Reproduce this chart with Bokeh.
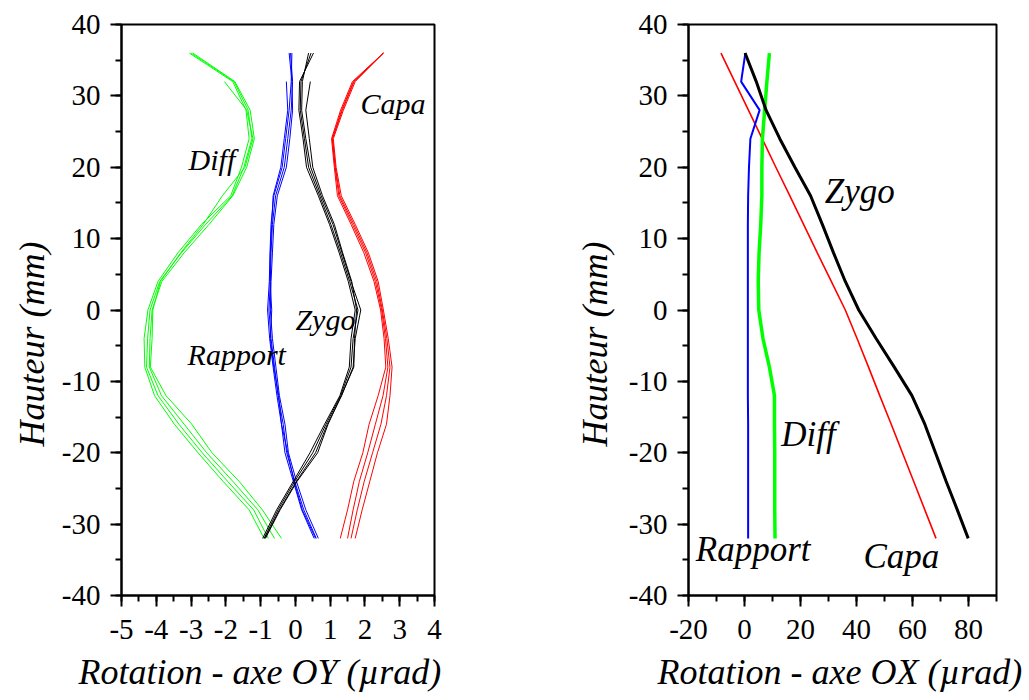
from bokeh.plotting import figure
from bokeh.layouts import row
from bokeh.models import Range1d, SingleIntervalTicker, Title, CustomJSTickFormatter
from bokeh.core.properties import value
from bokeh.embed import file_html
from bokeh.resources import INLINE

nan = float("nan")

# Heights (mm) shared by all curves
heights = [36, 32, 28, 24, 20, 16, 12, 8, 4, 0, -4, -8, -12, -16, -20, -24, -28, -32]

# ---- Left panel: Rotation - axe OY (µrad), several repeated measurements ----
diff_oy = [
    [-3.05, -1.80, -1.42, -1.33, -1.55, -1.86, -2.70, -3.38, -3.95, -4.24, -4.35, -4.33, -4.05, -3.48, -2.80, -2.08, -1.33, -0.90],
    [-3.00, -1.76, -1.36, -1.25, -1.48, -1.82, -2.58, -3.28, -3.90, -4.18, -4.25, -4.28, -3.95, -3.35, -2.68, -1.95, -1.20, -0.78],
    [-2.95, -1.74, -1.30, -1.18, -1.40, -1.80, -2.48, -3.20, -3.84, -4.12, -4.18, -4.20, -3.85, -3.20, -2.55, -1.80, -1.08, -0.60],
    [nan, -2.04, -1.40, -1.22, -1.45, -2.10, -2.65, -3.30, -3.88, -4.10, -4.12, -4.17, -3.72, -2.98, -2.40, -1.62, -0.95, -0.40],
]
rapport_oy = [
    [-0.18, -0.10, -0.08, -0.16, -0.26, -0.52, -0.62, -0.66, -0.70, -0.72, -0.66, -0.56, -0.46, -0.30, -0.20, 0.03, 0.30, 0.66],
    [-0.14, -0.08, -0.12, -0.22, -0.32, -0.57, -0.66, -0.70, -0.72, -0.76, -0.70, -0.60, -0.50, -0.35, -0.25, -0.02, 0.24, 0.60],
    [-0.10, -0.12, -0.18, -0.28, -0.38, -0.62, -0.70, -0.73, -0.75, -0.80, -0.74, -0.64, -0.53, -0.40, -0.30, -0.06, 0.18, 0.54],
    [nan, -0.26, -0.22, -0.32, -0.42, -0.64, -0.68, -0.72, -0.73, -0.68, -0.72, -0.62, -0.48, -0.40, -0.22, -0.04, 0.20, 0.58],
]
zygo_oy = [
    [0.52, 0.12, 0.10, 0.22, 0.32, 0.66, 0.98, 1.26, 1.52, 1.72, 1.60, 1.55, 1.28, 0.84, 0.42, -0.06, -0.54, -0.94],
    [0.45, 0.16, 0.14, 0.26, 0.38, 0.70, 1.02, 1.30, 1.56, 1.80, 1.66, 1.60, 1.30, 0.88, 0.50, -0.02, -0.50, -0.90],
    [0.38, 0.20, 0.18, 0.30, 0.44, 0.74, 1.08, 1.34, 1.60, 1.88, 1.72, 1.66, 1.33, 0.92, 0.58, 0.03, -0.46, -0.88],
    [nan, 0.43, 0.30, 0.40, 0.50, 0.78, 1.12, 1.36, 1.62, 1.76, 1.70, 1.68, 1.32, 0.94, 0.64, 0.05, -0.44, -0.86],
]
capa_oy = [
    [2.53, 1.64, 1.30, 1.04, 1.12, 1.21, 1.60, 1.97, 2.26, 2.45, 2.55, 2.60, 2.38, 2.12, 1.94, 1.68, 1.50, 1.29],
    [2.53, 1.67, 1.33, 1.06, 1.14, 1.25, 1.64, 2.02, 2.30, 2.48, 2.59, 2.66, 2.52, 2.30, 2.08, 1.84, 1.66, 1.50],
    [2.53, 1.69, 1.35, 1.07, 1.15, 1.28, 1.68, 2.06, 2.34, 2.50, 2.63, 2.72, 2.62, 2.46, 2.22, 1.98, 1.78, 1.60],
    [2.53, 1.72, 1.38, 1.09, 1.17, 1.32, 1.72, 2.10, 2.38, 2.53, 2.67, 2.78, 2.72, 2.62, 2.36, 2.14, 1.92, 1.72],
]

# ---- Right panel: Rotation - axe OX (µrad) ----
zygo_ox = [0.2, 4.2, 7.7, 12.6, 18.0, 23.6, 27.8, 31.8, 36.0, 40.8, 47.0, 53.5, 59.8, 64.4, 68.2, 72.0, 76.0, 79.9]
capa_ox = [-8.4, -3.5, 1.4, 6.3, 11.2, 16.2, 21.1, 26.0, 31.0, 36.0, 40.2, 44.3, 48.3, 52.4, 56.4, 60.4, 64.4, 68.4]
rapport_ox = [0.3, -1.2, 5.4, 2.1, 1.6, 1.3, 1.2, 1.2, 1.2, 1.2, 1.2, 1.2, 1.2, 1.3, 1.3, 1.3, 1.3, 1.3]
diff_ox = [8.9, 8.0, 7.2, 6.4, 6.2, 6.2, 5.8, 5.2, 4.9, 5.1, 6.6, 8.9, 10.7, 10.7, 10.8, 10.8, 10.8, 10.9]

# Curve names (annotations)
left_names = ["Capa", "Diff", "Zygo", "Rapport"]
right_names = ["Zygo", "Diff", "Rapport", "Capa"]

x_title_left = "Rotation - axe OY (µrad)"
x_title_right = "Rotation - axe OX (µrad)"
y_title = "Hauteur (mm)"

SERIF = "Liberation Serif"
GREEN = "#00ff00"
BLUE = "#0000ff"
RED = "#ff0000"

hyphen_fmt = "return tick.toString();"


def make_fig(xr, width, mbl, mbr, xint):
    p = figure(width=width, height=700, x_range=Range1d(*xr), y_range=Range1d(-40, 40),
               output_backend="svg", toolbar_location=None,
               min_border_left=mbl, min_border_right=mbr,
               min_border_top=24, min_border_bottom=104)
    p.grid.visible = False
    p.outline_line_color = "black"
    p.outline_line_width = 2
    p.outline_line_alpha = 1
    p.background_fill_color = "white"
    p.border_fill_color = "white"
    p.xaxis.ticker = SingleIntervalTicker(interval=xint, num_minor_ticks=2)
    p.yaxis.ticker = SingleIntervalTicker(interval=10, num_minor_ticks=2)
    for ax in p.axis:
        ax.formatter = CustomJSTickFormatter(code=hyphen_fmt)
        ax.axis_line_color = "black"
        ax.axis_line_width = 2
        ax.major_tick_line_color = "black"
        ax.major_tick_line_width = 2
        ax.minor_tick_line_color = "black"
        ax.minor_tick_line_width = 2
        ax.major_tick_out = 11
        ax.major_tick_in = 0
        ax.minor_tick_out = 6
        ax.minor_tick_in = 0
        ax.major_label_text_font = SERIF
        ax.major_label_text_font_size = "29px"
        ax.major_label_text_color = "black"
    p.xaxis.major_label_standoff = 13
    p.yaxis.major_label_standoff = 10
    return p


def add_titles(p, xoff, yoff, xtext, xstand, ystand):
    p.add_layout(Title(text=xtext, align="left", offset=xoff, standoff=xstand,
                       text_font=SERIF, text_font_style="italic", text_font_size="36px",
                       text_color="black"), "below")
    p.add_layout(Title(text=y_title, align="left", offset=yoff, standoff=ystand,
                       text_font=SERIF, text_font_style="italic", text_font_size="36px",
                       text_color="black"), "left")


# ---------------- Left figure ----------------
p1 = make_fig((-5, 4), 560, 121, 126, 1)
for xs in diff_oy:
    p1.line(xs, heights, line_color=GREEN, line_width=1)
for xs in rapport_oy:
    p1.line(xs, heights, line_color=BLUE, line_width=1)
for xs in zygo_oy:
    p1.line(xs, heights, line_color="black", line_width=1)
for xs in capa_oy:
    p1.line(xs, heights, line_color=RED, line_width=1)

p1.text(x=[1.87, -3.07, 0.0, -3.10], y=[29.0, 21.05, -1.33, -6.22], text=left_names,
        text_font=value(SERIF), text_font_style="italic", text_font_size="30px",
        text_align="left", text_baseline="middle", text_color="black")
add_titles(p1, -43, 149, x_title_left, 17, 14)

# ---------------- Right figure ----------------
p2 = make_fig((-20, 90), 465, 128, 29, 20)
p2.line(capa_ox, heights, line_color=RED, line_width=1.6)
p2.line(rapport_ox, heights, line_color=BLUE, line_width=2)
p2.line(diff_ox, heights, line_color=GREEN, line_width=3.5)
p2.line(zygo_ox, heights, line_color="black", line_width=3)

p2.text(x=[28.7, 13.1, -17.4, 42.5], y=[16.6, -17.5, -33.6, -34.6], text=right_names,
        text_font=value(SERIF), text_font_style="italic", text_font_size="35px",
        text_align="left", text_baseline="middle", text_color="black")
add_titles(p2, -31, 149, x_title_right, 17, 21)

layout = row(p1, p2)
open("out.html", "w").write(file_html(layout, INLINE))
